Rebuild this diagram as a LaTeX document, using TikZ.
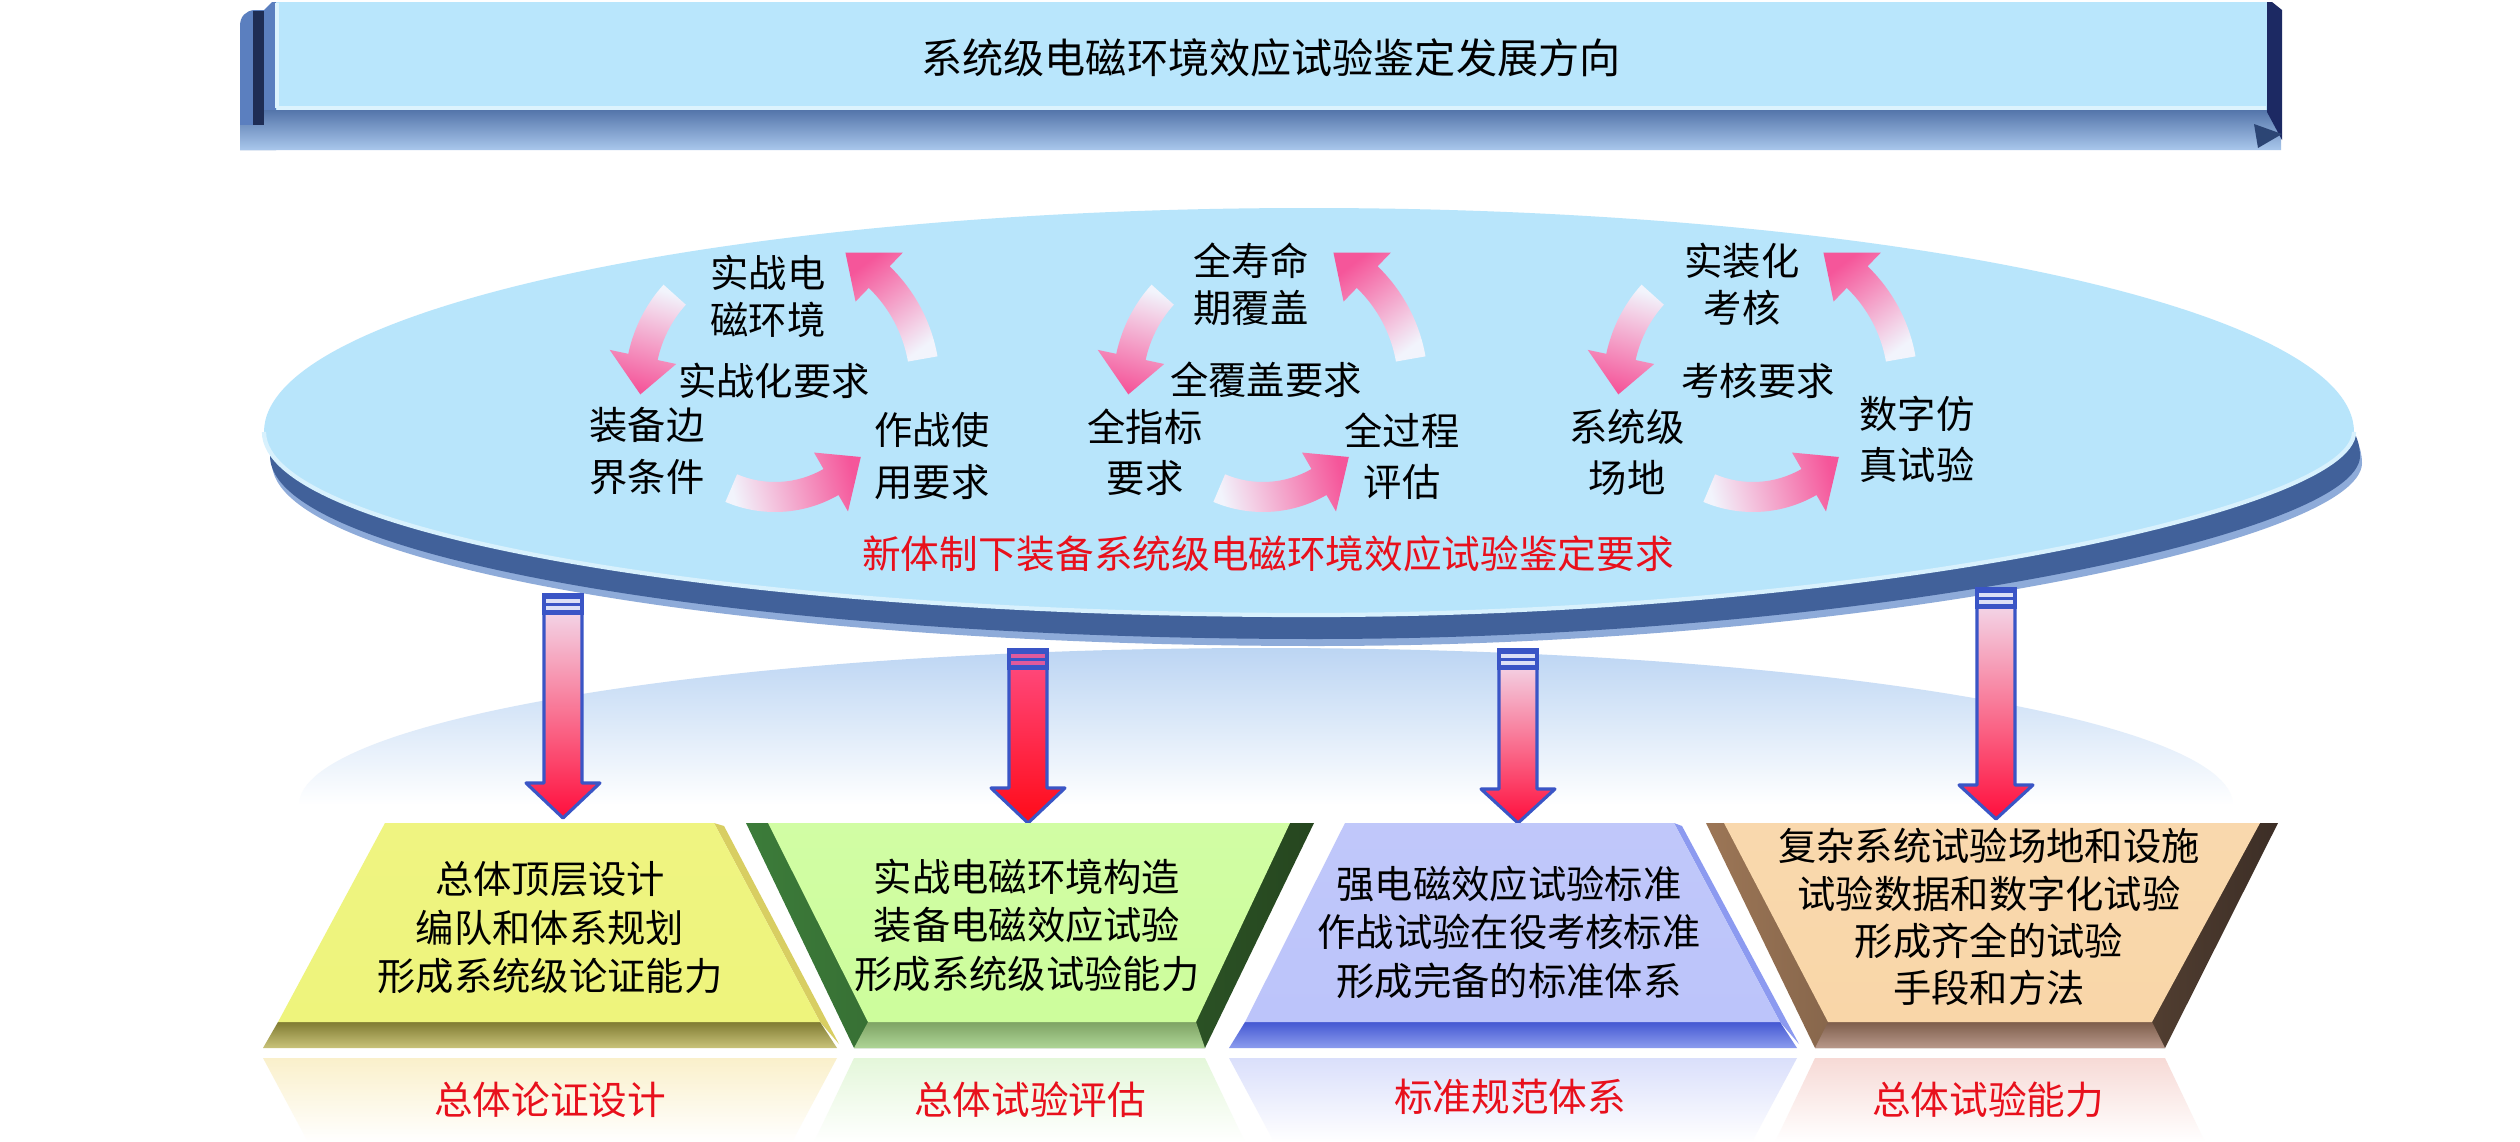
\documentclass[tikz,border=0pt]{standalone}
\usepackage{fontspec}
\setmainfont{Noto Sans CJK SC}
\usetikzlibrary{calc}
\definecolor{faceblue}{HTML}{B9E6FC}
\definecolor{bevtop}{HTML}{5475AA}
\definecolor{bevmid}{HTML}{45669B}
\definecolor{bevbot}{HTML}{A9C7EC}
\definecolor{bevside}{HTML}{5B7FBF}
\definecolor{navy}{HTML}{1E2D55}
\definecolor{foldc}{HTML}{2C4574}
\definecolor{ellface}{HTML}{B8E5FB}
\definecolor{rimdark}{HTML}{41619A}
\definecolor{rimlight}{HTML}{8EABD9}
\definecolor{domeblue}{HTML}{BCD5F3}
\definecolor{cycw}{HTML}{F2F4FC}
\definecolor{cycp}{HTML}{F5569A}
\definecolor{arrblue}{HTML}{3A55C6}
\definecolor{arrtop}{HTML}{F2E4F4}
\definecolor{arrmid}{HTML}{F58ABA}
\definecolor{arrred}{HTML}{FF0E3C}
\definecolor{arrtwotop}{HTML}{FF4E84}
\definecolor{arrtwobot}{HTML}{FF0A18}
\definecolor{capwhite}{HTML}{DCE0F6}
\definecolor{cappink}{HTML}{E05A9C}
\definecolor{txtred}{HTML}{E8101C}
\definecolor{yface}{HTML}{EEF47C}
\definecolor{ybevt}{HTML}{807B32}
\definecolor{ybevb}{HTML}{C9C37A}
\definecolor{yedge}{HTML}{D8CE62}
\definecolor{gface}{HTML}{CDFD9C}
\definecolor{gleft}{HTML}{3C7C3A}
\definecolor{gright}{HTML}{26461F}
\definecolor{gbevt}{HTML}{7EA364}
\definecolor{gbevb}{HTML}{AED596}
\definecolor{bface}{HTML}{BCC4FA}
\definecolor{bbevt}{HTML}{4458D2}
\definecolor{bbevb}{HTML}{8C9CEE}
\definecolor{bedge}{HTML}{8C9AF0}
\definecolor{pface}{HTML}{F9D6A8}
\definecolor{pleft}{HTML}{9C7656}
\definecolor{pright}{HTML}{3C2E26}
\definecolor{pbevt}{HTML}{7E5E4C}
\definecolor{pbevb}{HTML}{B8988A}
\definecolor{reflY}{HTML}{FAF0CB}
\definecolor{reflG}{HTML}{E4F7DA}
\definecolor{reflB}{HTML}{DADFFB}
\definecolor{reflP}{HTML}{F7DAD6}

\tikzset{
  cyctxt/.style={align=center, inner sep=0pt, font=\fontsize{10.9}{14.6}\selectfont},
  cyctop/.style={align=center, inner sep=0pt, font=\fontsize{10.9}{13.3}\selectfont},
  boxtxt/.style={align=center, inner sep=0pt, font=\fontsize{10.9}{13.8}\selectfont},
  redtxt/.style={inner sep=0pt, text=txtred, font=\fontsize{11}{13}\selectfont},
}

% curved cycle arrow: cx, cy, r, start, end, tip angle, shading angle
\newcommand{\cycarrow}[7]{%
  \pgfmathsetmacro{\cycRo}{#3+15}\pgfmathsetmacro{\cycRi}{#3-15}%
  \pgfmathsetmacro{\cycHo}{#3+34}\pgfmathsetmacro{\cycHi}{#3-34}%
  \shade[top color=cycp, bottom color=cycw, shading angle=#7]
    ($(#1,#2)+(#4:\cycRo)$) arc[start angle=#4, end angle=#5, radius=\cycRo]
    -- ($(#1,#2)+(#5:\cycHo)$) -- ($(#1,#2)+(#6:#3)$) -- ($(#1,#2)+(#5:\cycHi)$)
    -- ($(#1,#2)+(#5:\cycRi)$) arc[start angle=#5, end angle=#4, radius=\cycRi] -- cycle;
}
\newcommand{\cycgroup}[2]{%
  \cycarrow{#1}{#2}{135}{222}{192}{176}{164}
  \cycarrow{#1}{#2}{112}{113}{60}{40}{-76}
  \cycarrow{#1}{#2}{150}{350}{314}{298}{37}
}
% vertical block arrow: x, top, head start, tip, shading, cap colour
\newcommand{\varrow}[6]{%
  \shadedraw[#5, draw=arrblue, line width=0.9pt, line join=round]
    (#1-19,#2) -- (#1+19,#2) -- (#1+19,#3) -- (#1+37,#3) -- (#1,#4)
    -- (#1-37,#3) -- (#1-19,#3) -- cycle;
  \fill[#6] (#1-19,#2) rectangle (#1+19,#2+18);
  \fill[arrblue] (#1-19,#2) rectangle (#1+19,#2+4);
  \fill[arrblue] (#1-19,#2+8) rectangle (#1+19,#2+11);
  \fill[arrblue] (#1-19,#2+15) rectangle (#1+19,#2+18);
  \draw[arrblue, line width=0.9pt] (#1-19,#2) rectangle (#1+19,#2+18);
}
% disk outline (face), optionally shifted
\newcommand{\diskfill}[3]{%
  \fill[#1, shift={(#2,#3)}] (264,432)
    arc[start angle=180, end angle=360, x radius=1045, y radius=224]
    .. controls (2354,510) and (1860,615) .. (1309,615)
    arc[start angle=90, end angle=180, x radius=1045, y radius=183] -- cycle;
}

\begin{document}
\begin{tikzpicture}[x=0.1mm,y=-0.1mm]
\useasboundingbox[fill=white] (0,0) rectangle (2520,1142);

% ---------- dome reflection behind arrows
\shade[top color=domeblue, bottom color=white]
  (299,805) arc[start angle=180, end angle=360, x radius=967, y radius=157] -- cycle;

% ---------- ellipse disk
\diskfill{rimlight}{8}{31}
\diskfill{rimdark}{6}{24}
\diskfill{ellface}{0}{0}
\draw[ellface!55!white, line width=1.2pt]
  (264,432) arc[start angle=180, end angle=90, x radius=1045, y radius=183]
  .. controls (1860,615) and (2354,510) .. (2354,432);

% ---------- top banner
\fill[bevside] (240,150) -- (240,26) .. controls (240,16) and (246,11) .. (254,10)
  -- (264,10) -- (272,2) -- (276,2) -- (276,150) -- cycle;
\fill[navy] (253,11) rectangle (264,125);
\shade[top color=bevtop, middle color=bevmid, bottom color=bevbot]
  (264,110) -- (2267,110) -- (2281,128) -- (2281,150) -- (240,150) -- (240,125) -- (264,125) -- cycle;
\fill[faceblue] (276,2) rectangle (2267,110);
\draw[faceblue!50!white, line width=1pt] (277,108) -- (2266,108);
\draw[faceblue!50!white, line width=1pt] (277,3) -- (277,108);
\fill[navy!92!blue] (2267,2) -- (2272,2) -- (2282,10) -- (2282,140) -- (2267,112) -- cycle;
\fill[foldc] (2254,124) -- (2282,134) -- (2258,148) -- cycle;
\node (title) at (1271,58) {\fontsize{11.7}{14}\selectfont 系统级电磁环境效应试验鉴定发展方向};

% ---------- cycle arrows
\cycgroup{775}{385}
\cycgroup{1263}{385}
\cycgroup{1753}{385}

% ---------- cycle texts
\node[cyctop] (g1top) at (768,296) {实战电\\磁环境};
\node[cyctxt] (g1mid) at (774,381) {实战化要求};
\node[cyctxt] (g1bl) at (647,451) {装备边\\界条件};
\node[cyctxt] (g1br) at (932,456) {作战使\\用要求};

\node[cyctop] (g2top) at (1251,284) {全寿命\\期覆盖};
\node[cyctxt] (g2mid) at (1266,380) {全覆盖要求};
\node[cyctxt] (g2bl) at (1145,452) {全指标\\要求};
\node[cyctxt] (g2br) at (1402,456) {全过程\\评估};

\node[cyctop] (g3top) at (1742,284) {实装化\\考核};
\node[cyctxt] (g3mid) at (1758,381) {考核要求};
\node[cyctxt] (g3bl) at (1627,452) {系统级\\场地};
\node[cyctxt] (g3br) at (1917,439) {数字仿\\真试验};

\node[redtxt] (req) at (1268,554) {新体制下装备系统级电磁环境效应试验鉴定要求};

% ---------- vertical arrows
\varrow{563}{595}{783}{818}{top color=arrtop, middle color=arrmid, bottom color=arrred}{capwhite}
\varrow{1028}{650}{788}{823}{top color=arrtwotop, bottom color=arrtwobot}{cappink}
\varrow{1518}{650}{789}{823}{top color=arrtop, middle color=arrmid, bottom color=arrred}{capwhite}
\varrow{1996}{589}{785}{819}{top color=arrtop, middle color=arrmid, bottom color=arrred}{capwhite}

% ---------- reflections
\shade[top color=reflY, middle color=reflY!75!white, bottom color=white]
  (263,1058) -- (837,1058) -- (792,1142) -- (308,1142) -- cycle;
\shade[top color=reflG, middle color=reflG!75!white, bottom color=white]
  (854,1058) -- (1205,1058) -- (1245,1142) -- (814,1142) -- cycle;
\shade[top color=reflB, middle color=reflB!75!white, bottom color=white]
  (1229,1058) -- (1797,1058) -- (1752,1142) -- (1274,1142) -- cycle;
\shade[top color=reflP, middle color=reflP!75!white, bottom color=white]
  (1815,1058) -- (2165,1058) -- (2205,1142) -- (1775,1142) -- cycle;

% ---------- box 1 (yellow)
\fill[yedge] (714,823) -- (724,826) -- (839,1044) -- (820,1022) -- cycle;
\shade[top color=ybevt, bottom color=ybevb]
  (278,1022) -- (820,1022) -- (837,1048) -- (263,1048) -- cycle;
\shade[top color=yface!96!white, bottom color=yface]
  (385,823) -- (714,823) -- (820,1022) -- (278,1022) -- cycle;
\node[boxtxt] (b1) at (550,928) {总体顶层设计\\编队和体系规划\\形成系统级论证能力};

% ---------- box 2 (green)
\shade[left color=gleft, right color=gright]
  (746,823) -- (1314,823) -- (1205,1048) -- (854,1048) -- cycle;
\shade[top color=gbevt, bottom color=gbevb]
  (868,1022) -- (1196,1022) -- (1205,1048) -- (854,1048) -- cycle;
\shade[top color=gface!92!white, bottom color=gface]
  (768,823) -- (1290,823) -- (1196,1022) -- (868,1022) -- cycle;
\node[boxtxt] (b2) at (1027,925) {实战电磁环境构造\\装备电磁效应试验\\形成系统级试验能力};

% ---------- box 3 (blue)
\fill[bedge] (1674,823) -- (1682,826) -- (1799,1044) -- (1780,1022) -- cycle;
\shade[top color=bbevt, bottom color=bbevb]
  (1245,1022) -- (1780,1022) -- (1797,1048) -- (1229,1048) -- cycle;
\shade[top color=bface!94!white, bottom color=bface]
  (1345,823) -- (1674,823) -- (1780,1022) -- (1245,1022) -- cycle;
\node[boxtxt] (b3) at (1509,932) {强电磁效应试验标准\\作战试验在役考核标准\\形成完备的标准体系};

% ---------- box 4 (peach)
\shade[left color=pleft, right color=pright]
  (1706,823) -- (2278,823) -- (2165,1048) -- (1815,1048) -- cycle;
\shade[top color=pbevt, bottom color=pbevb]
  (1828,1022) -- (2152,1022) -- (2165,1048) -- (1815,1048) -- cycle;
\shade[top color=pface!94!white, bottom color=pface]
  (1724,823) -- (2260,823) -- (2152,1022) -- (1828,1022) -- cycle;
\node[boxtxt, font=\fontsize{10.9}{13.4}\selectfont] (b4) at (1989,917) {复杂系统试验场地和设施\\试验数据和数字化试验\\形成齐全的试验\\手段和方法};

% ---------- reflection labels
\node[redtxt] (l1) at (550,1100) {总体论证设计};
\node[redtxt] (l2) at (1030,1100) {总体试验评估};
\node[redtxt] (l3) at (1510,1097) {标准规范体系};
\node[redtxt] (l4) at (1988,1100) {总体试验能力};
\end{tikzpicture}
\end{document}
